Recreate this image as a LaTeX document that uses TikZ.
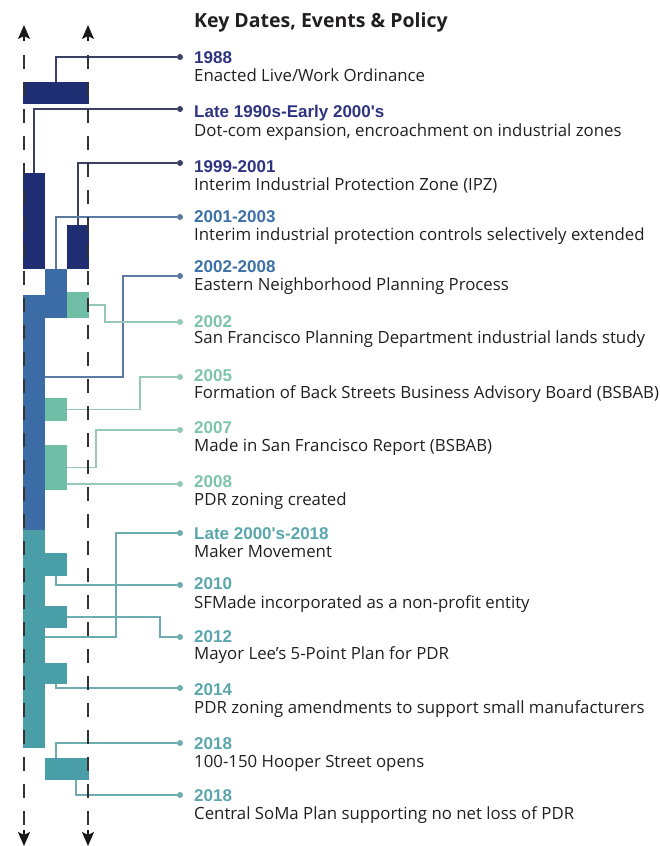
\documentclass[tikz,border=0pt]{standalone}
\usepackage{fontspec}
\usepackage{tikz}
\usetikzlibrary{arrows.meta}
\setmainfont{Open Sans}
\newfontfamily\datefont{Liberation Sans}
\definecolor{navy}{RGB}{31, 45, 115}
\definecolor{mblue}{RGB}{59, 108, 166}
\definecolor{mint}{RGB}{112, 190, 166}
\definecolor{sea}{RGB}{74, 158, 168}
\definecolor{navytext}{RGB}{46, 52, 128}
\definecolor{bluetext}{RGB}{62, 113, 166}
\definecolor{minttext}{RGB}{126, 195, 172}
\definecolor{seatext}{RGB}{90, 166, 173}
\definecolor{navylink}{RGB}{60, 64, 100}
\definecolor{bluelink}{RGB}{90, 122, 160}
\definecolor{mintlink}{RGB}{150, 200, 185}
\definecolor{sealink}{RGB}{110, 172, 176}
\definecolor{ink}{RGB}{35, 31, 32}
\tikzset{circ/.style = {fill, circle, inner sep = 0, minimum size = 6}}
\tikzset{bar/.style = {inner sep = 0, outer sep = 0, minimum width = 22}}
\tikzset{link/.style = {line width = 1.1}}
\tikzset{tip/.style = {-{Stealth[length = 14pt, width = 12pt, inset = 3pt]}, line width = 1.6, black!90}}
\tikzset{guide/.style = {line width = 1.6, black!80, dash pattern = on 14pt off 13pt}}
\tikzset{date/.style = {anchor = base west, inner sep = 0, font = \datefont\bfseries\fontsize{17}{20}\selectfont}}
\tikzset{desc/.style = {anchor = base west, inner sep = 0, ink, font = \fontsize{16.8}{20}\selectfont}}

\begin{document}
\begin{tikzpicture}[x = 1pt, y = -1pt]

      \useasboundingbox (0, 0) rectangle (660, 846);

      \node [anchor = base west, inner sep = 0, ink, font = \bfseries\fontsize{19.5}{22}\selectfont] (head) at (194, 27) {Key Dates, Events \& Policy};

      % bars
      \node [bar, fill = navy, minimum width = 66, minimum height = 22] (b1) at (56, 93) {};
      \node [bar, fill = navy, minimum height = 96] (b2) at (34, 221) {};
      \node [bar, fill = navy, minimum height = 44] (b3) at (78, 247) {};
      \node [bar, fill = mblue, minimum height = 49] (b4) at (56, 293.5) {};
      \node [bar, fill = mblue, minimum height = 235] (b5) at (34, 412.5) {};
      \node [bar, fill = mint, minimum height = 26] (b6) at (78, 305) {};
      \node [bar, fill = mint, minimum height = 23] (b7) at (56, 409.5) {};
      \node [bar, fill = mint, minimum height = 45] (b8) at (56, 467.5) {};
      \node [bar, fill = sea, minimum height = 218] (b10) at (34, 639) {};
      \node [bar, fill = sea, minimum height = 23] (b11) at (56, 564.5) {};
      \node [bar, fill = sea, minimum height = 22] (b12) at (56, 617) {};
      \node [bar, fill = sea, minimum height = 21] (b13) at (56, 673.5) {};
      \node [bar, fill = sea, minimum width = 44, minimum height = 22] (b14) at (67, 769) {};

      % dots
      \node [circ, navylink] (d1) at (180, 57) {};
      \node [circ, navylink] (d2) at (180, 109) {};
      \node [circ, navylink] (d3) at (180, 163) {};
      \node [circ, bluelink] (d4) at (180, 217) {};
      \node [circ, bluelink] (d5) at (180, 276) {};
      \node [circ, mintlink] (d6) at (180, 322) {};
      \node [circ, mintlink] (d7) at (180, 377) {};
      \node [circ, mintlink] (d8) at (180, 430) {};
      \node [circ, mintlink] (d9) at (180, 484) {};
      \node [circ, sealink] (d10) at (180, 533) {};
      \node [circ, sealink] (d11) at (180, 585) {};
      \node [circ, sealink] (d12) at (180, 637) {};
      \node [circ, sealink] (d13) at (180, 688) {};
      \node [circ, sealink] (d14) at (180, 743) {};
      \node [circ, sealink] (d15) at (180, 795) {};

      % dates and events
      \node [date, navytext] (y1) at (194, 63) {1988};
      \node [desc] (t1) at (194, 81) {Enacted Live/Work Ordinance};
      \node [date, navytext] (y2) at (194, 117) {Late 1990s-Early 2000's};
      \node [desc] (t2) at (194, 136) {Dot-com expansion, encroachment on industrial zones};
      \node [date, navytext] (y3) at (194, 172) {1999-2001};
      \node [desc] (t3) at (194, 190) {Interim Industrial Protection Zone (IPZ)};
      \node [date, bluetext] (y4) at (194, 222) {2001-2003};
      \node [desc] (t4) at (194, 240) {Interim industrial protection controls selectively extended};
      \node [date, bluetext] (y5) at (194, 272) {2002-2008};
      \node [desc] (t5) at (194, 290) {Eastern Neighborhood Planning Process};
      \node [date, minttext] (y6) at (194, 327) {2002};
      \node [desc] (t6) at (194, 343) {San Francisco Planning Department industrial lands study};
      \node [date, minttext] (y7) at (194, 381) {2005};
      \node [desc] (t7) at (194, 398) {Formation of Back Streets Business Advisory Board (BSBAB)};
      \node [date, minttext] (y8) at (194, 433) {2007};
      \node [desc] (t8) at (194, 451) {Made in San Francisco Report (BSBAB)};
      \node [date, minttext] (y9) at (194, 487) {2008};
      \node [desc] (t9) at (194, 505) {PDR zoning created};
      \node [date, seatext] (y10) at (194, 539) {Late 2000's-2018};
      \node [desc] (t10) at (194, 557) {Maker Movement};
      \node [date, seatext] (y11) at (194, 589) {2010};
      \node [desc] (t11) at (194, 608) {SFMade incorporated as a non-profit entity};
      \node [date, seatext] (y12) at (194, 642) {2012};
      \node [desc] (t12) at (194, 659) {Mayor Lee's 5-Point Plan for PDR};
      \node [date, seatext] (y13) at (194, 695) {2014};
      \node [desc] (t13) at (194, 713) {PDR zoning amendments to support small manufacturers};
      \node [date, seatext] (y14) at (194, 749) {2018};
      \node [desc] (t14) at (194, 767) {100-150 Hooper Street opens};
      \node [date, seatext] (y15) at (194, 801) {2018};
      \node [desc] (t15) at (194, 819) {Central SoMa Plan supporting no net loss of PDR};

      % connectors
      \coordinate (k5) at (123, 377);
      \coordinate (k10) at (116, 637);
      \draw [link, navylink] (b1.north) |- (d1);
      \draw [link, navylink] (b2.north) |- (d2);
      \draw [link, navylink] (b3.north) |- (d3);
      \draw [link, bluelink] (b4.north) |- (d4);
      \draw [link, bluelink] (d5) -| (k5) -- (k5 -| b5.east);
      \draw [link, mintlink] (b6.east) -- ++(16, 0) |- (d6);
      \draw [link, mintlink] (b7.east) -- ++(73, 0) |- (d7);
      \draw [link, mintlink] (b8.east) -- ++(29, 0) |- (d8);
      \draw [link, mintlink] (d9 -| b8.east) -- (d9);
      \draw [link, sealink] (d10) -| (k10) -- (k10 -| b10.east);
      \draw [link, sealink] (b11.south) |- (d11);
      \draw [link, sealink] (b12.east) -- ++(93, 0) |- (d12);
      \draw [link, sealink] (b13.south) |- (d13);
      \draw [link, sealink] ([xshift = -11]b14.north) |- (d14);
      \draw [link, sealink] ([xshift = 9]b14.south) |- (d15);

      % time axes, dashes from 55 down to 826, heads above and below
      \coordinate (lt) at (24, 55);
      \coordinate (lb) at (24, 826);
      \coordinate (rt) at (88, 55);
      \coordinate (rb) at (88, 826);
      \draw [guide] (lt) -- (lb);
      \draw [guide] (rt) -- (rb);
      \draw [tip] ([yshift = 14]lt) -- ++(0, -16);
      \draw [tip] ([yshift = 14]rt) -- ++(0, -16);
      \draw [tip] ([yshift = -4]lb) -- ++(0, 16);
      \draw [tip] ([yshift = -4]rb) -- ++(0, 16);

    \end{tikzpicture}
\end{document}
